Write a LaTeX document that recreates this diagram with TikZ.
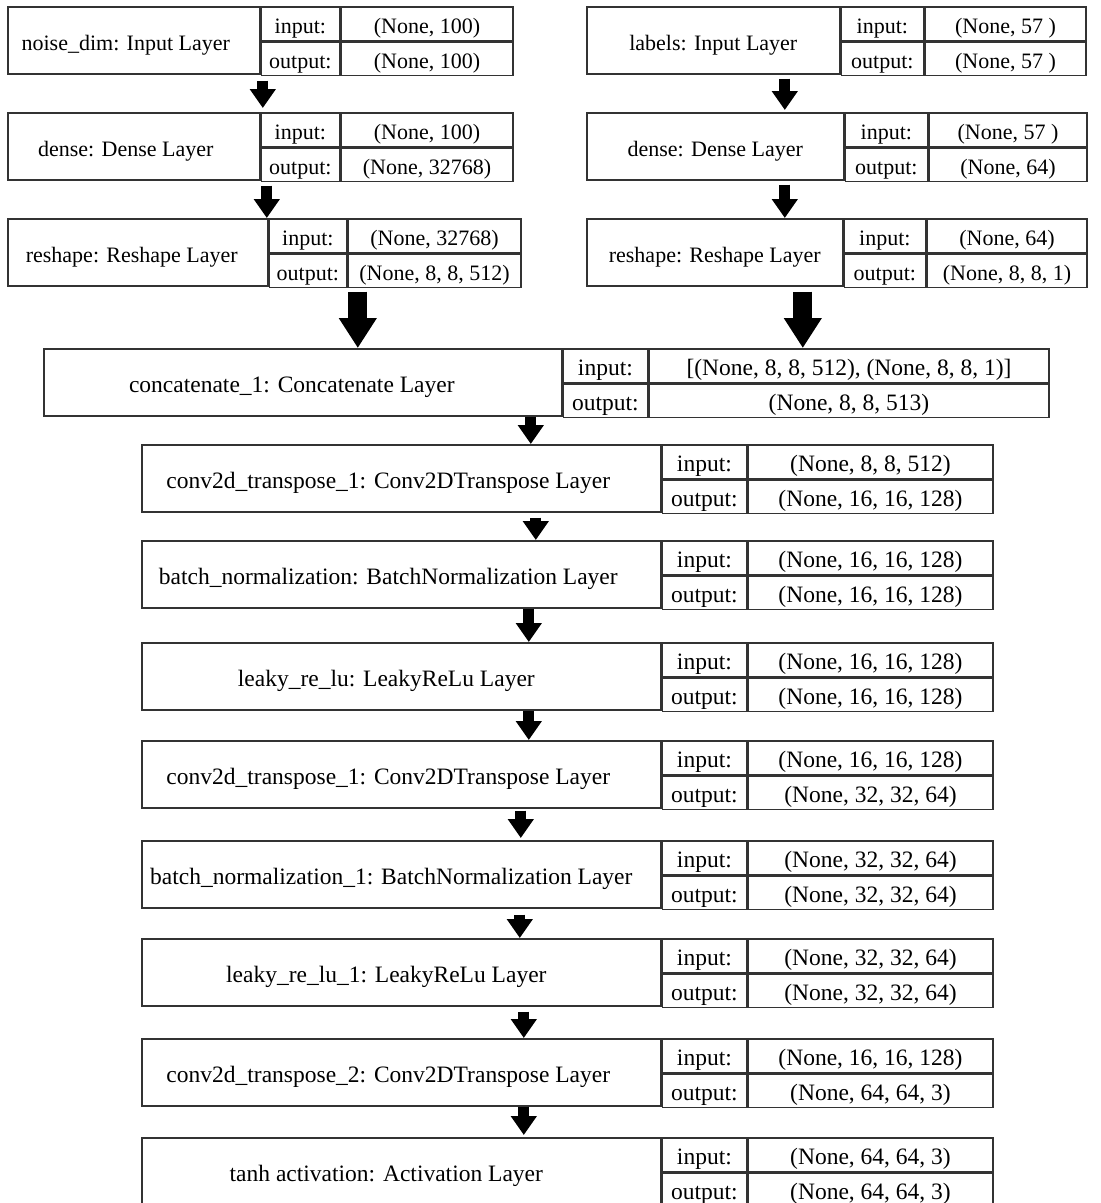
\documentclass[tikz,border=0pt]{standalone}
\usepackage{fontspec}
\setmainfont{Liberation Serif}
\usetikzlibrary{arrows.meta,positioning}

\begin{document}
\begin{tikzpicture}[x=1pt, y=-1pt,
		cell/.style={draw=black!80, line width=1.6pt, inner sep=0pt, anchor=north west,
			minimum height=67pt, text height=21pt, text depth=1pt, font=\fontsize{22}{26}\selectfont},
		half/.style={cell, minimum height=33.5pt},
		lshift/.style={execute at end node=\hspace*{#1}},
		arr/.style={line width=11pt, -{Triangle[width=25pt,length=19pt]}},
		bigarr/.style={line width=19pt, -{Triangle[width=36pt,length=30pt]}}]
	\useasboundingbox (0,0) rectangle (1101,1203);
	
	% Noise branch (left)
	\node[cell, lshift=16pt, minimum width=252pt] (noise) at (7,6) {noise\_dim: Input Layer};
	\node[half, minimum width=78pt] (noise-i) at (noise.north east) {input:};
	\node[half, minimum width=78pt] (noise-o) at (noise-i.south west) {output:};
	\node[half, minimum width=172pt] (noise-iv) at (noise-i.north east) {(None, 100)};
	\node[half, minimum width=172pt] (noise-ov) at (noise-o.north east) {(None, 100)};
	
	\node[cell, lshift=16pt, minimum width=252pt] (densea) at (7,112) {dense: Dense Layer};
	\node[half, minimum width=78pt] (densea-i) at (densea.north east) {input:};
	\node[half, minimum width=78pt] (densea-o) at (densea-i.south west) {output:};
	\node[half, minimum width=172pt] (densea-iv) at (densea-i.north east) {(None, 100)};
	\node[half, minimum width=172pt] (densea-ov) at (densea-o.north east) {(None, 32768)};
	
	\node[cell, lshift=12pt, minimum width=260pt] (reshapea) at (7,218) {reshape: Reshape Layer};
	\node[half, minimum width=77pt] (reshapea-i) at (reshapea.north east) {input:};
	\node[half, minimum width=77pt] (reshapea-o) at (reshapea-i.south west) {output:};
	\node[half, minimum width=173pt] (reshapea-iv) at (reshapea-i.north east) {(None, 32768)};
	\node[half, minimum width=173pt] (reshapea-ov) at (reshapea-o.north east) {(None, 8, 8, 512)};
	
	% Label branch (right)
	\node[cell, minimum width=253pt] (labels) at (586,6) {labels: Input Layer};
	\node[half, minimum width=82pt] (labels-i) at (labels.north east) {input:};
	\node[half, minimum width=82pt] (labels-o) at (labels-i.south west) {output:};
	\node[half, minimum width=161pt] (labels-iv) at (labels-i.north east) {(None, 57\ )};
	\node[half, minimum width=161pt] (labels-ov) at (labels-o.north east) {(None, 57\ )};
	
	\node[cell, minimum width=257pt] (denseb) at (586,112) {dense: Dense Layer};
	\node[half, minimum width=82pt] (denseb-i) at (denseb.north east) {input:};
	\node[half, minimum width=82pt] (denseb-o) at (denseb-i.south west) {output:};
	\node[half, minimum width=158pt] (denseb-iv) at (denseb-i.north east) {(None, 57\ )};
	\node[half, minimum width=158pt] (denseb-ov) at (denseb-o.north east) {(None, 64)};
	
	\node[cell, minimum width=256pt] (reshapeb) at (586,218) {reshape: Reshape Layer};
	\node[half, minimum width=81pt] (reshapeb-i) at (reshapeb.north east) {input:};
	\node[half, minimum width=81pt] (reshapeb-o) at (reshapeb-i.south west) {output:};
	\node[half, minimum width=160pt] (reshapeb-iv) at (reshapeb-i.north east) {(None, 64)};
	\node[half, minimum width=160pt] (reshapeb-ov) at (reshapeb-o.north east) {(None, 8, 8, 1)};
	
	\begin{scope}[cell/.append style={font=\fontsize{23.5}{27}\selectfont}]
		% Merge
		\node[cell, lshift=22pt, minimum width=518pt] (concat) at (43,348) {concatenate\_1: Concatenate Layer};
		\node[half, minimum width=84pt] (concat-i) at (concat.north east) {input:};
		\node[half, minimum width=84pt] (concat-o) at (concat-i.south west) {output:};
		\node[half, minimum width=400pt] (concat-iv) at (concat-i.north east) {[(None, 8, 8, 512), (None, 8, 8, 1)]};
		\node[half, minimum width=400pt] (concat-ov) at (concat-o.north east) {(None, 8, 8, 513)};
		
		% Generator stack
		\node[cell, lshift=26pt, minimum width=519pt] (convta) at (141,444) {conv2d\_transpose\_1: Conv2DTranspose Layer};
		\node[half, minimum width=84pt] (convta-i) at (convta.north east) {input:};
		\node[half, minimum width=84pt] (convta-o) at (convta-i.south west) {output:};
		\node[half, minimum width=245pt] (convta-iv) at (convta-i.north east) {(None, 8, 8, 512)};
		\node[half, minimum width=245pt] (convta-ov) at (convta-o.north east) {(None, 16, 16, 128)};
		
		\node[cell, lshift=26pt, minimum width=519pt] (bna) at (141,540) {batch\_normalization: BatchNormalization Layer};
		\node[half, minimum width=84pt] (bna-i) at (bna.north east) {input:};
		\node[half, minimum width=84pt] (bna-o) at (bna-i.south west) {output:};
		\node[half, minimum width=245pt] (bna-iv) at (bna-i.north east) {(None, 16, 16, 128)};
		\node[half, minimum width=245pt] (bna-ov) at (bna-o.north east) {(None, 16, 16, 128)};
		
		\node[cell, lshift=30pt, minimum width=519pt] (lrelua) at (141,642) {leaky\_re\_lu: LeakyReLu Layer};
		\node[half, minimum width=84pt] (lrelua-i) at (lrelua.north east) {input:};
		\node[half, minimum width=84pt] (lrelua-o) at (lrelua-i.south west) {output:};
		\node[half, minimum width=245pt] (lrelua-iv) at (lrelua-i.north east) {(None, 16, 16, 128)};
		\node[half, minimum width=245pt] (lrelua-ov) at (lrelua-o.north east) {(None, 16, 16, 128)};
		
		\node[cell, lshift=26pt, minimum width=519pt] (convtb) at (141,740) {conv2d\_transpose\_1: Conv2DTranspose Layer};
		\node[half, minimum width=84pt] (convtb-i) at (convtb.north east) {input:};
		\node[half, minimum width=84pt] (convtb-o) at (convtb-i.south west) {output:};
		\node[half, minimum width=245pt] (convtb-iv) at (convtb-i.north east) {(None, 16, 16, 128)};
		\node[half, minimum width=245pt] (convtb-ov) at (convtb-o.north east) {(None, 32, 32, 64)};
		
		\node[cell, lshift=20pt, minimum width=519pt] (bnb) at (141,840) {batch\_normalization\_1: BatchNormalization Layer};
		\node[half, minimum width=84pt] (bnb-i) at (bnb.north east) {input:};
		\node[half, minimum width=84pt] (bnb-o) at (bnb-i.south west) {output:};
		\node[half, minimum width=245pt] (bnb-iv) at (bnb-i.north east) {(None, 32, 32, 64)};
		\node[half, minimum width=245pt] (bnb-ov) at (bnb-o.north east) {(None, 32, 32, 64)};
		
		\node[cell, lshift=30pt, minimum width=519pt] (lrelub) at (141,938) {leaky\_re\_lu\_1: LeakyReLu Layer};
		\node[half, minimum width=84pt] (lrelub-i) at (lrelub.north east) {input:};
		\node[half, minimum width=84pt] (lrelub-o) at (lrelub-i.south west) {output:};
		\node[half, minimum width=245pt] (lrelub-iv) at (lrelub-i.north east) {(None, 32, 32, 64)};
		\node[half, minimum width=245pt] (lrelub-ov) at (lrelub-o.north east) {(None, 32, 32, 64)};
		
		\node[cell, lshift=26pt, minimum width=519pt] (convtc) at (141,1038) {conv2d\_transpose\_2: Conv2DTranspose Layer};
		\node[half, minimum width=84pt] (convtc-i) at (convtc.north east) {input:};
		\node[half, minimum width=84pt] (convtc-o) at (convtc-i.south west) {output:};
		\node[half, minimum width=245pt] (convtc-iv) at (convtc-i.north east) {(None, 16, 16, 128)};
		\node[half, minimum width=245pt] (convtc-ov) at (convtc-o.north east) {(None, 64, 64, 3)};
		
		\node[cell, lshift=30pt, minimum width=519pt] (tanh) at (141,1137) {tanh activation: Activation Layer};
		\node[half, minimum width=84pt] (tanh-i) at (tanh.north east) {input:};
		\node[half, minimum width=84pt] (tanh-o) at (tanh-i.south west) {output:};
		\node[half, minimum width=245pt] (tanh-iv) at (tanh-i.north east) {(None, 64, 64, 3)};
		\node[half, minimum width=245pt] (tanh-ov) at (tanh-o.north east) {(None, 64, 64, 3)};
	\end{scope}
	
	% Arrows of both branches
	\draw[arr] ([xshift=129pt,yshift=-6pt]noise.south) -- ([xshift=129pt,yshift=4pt]densea.north);
	\draw[arr] ([xshift=133pt,yshift=-5pt]densea.south) -- ([xshift=129pt]reshapea.north);
	\draw[arr] ([xshift=71.5pt,yshift=-4pt]labels.south) -- ([xshift=69.5pt,yshift=2pt]denseb.north);
	\draw[arr] ([xshift=69.5pt,yshift=-4pt]denseb.south) -- ([xshift=70pt]reshapeb.north);
	\draw[bigarr] ([xshift=220pt,yshift=-5pt]reshapea.south) -- ([xshift=55pt]concat.north);
	\draw[bigarr] ([xshift=88pt,yshift=-5pt]reshapeb.south) -- ([xshift=500pt]concat.north);
	
	% Arrows of the stack
	\draw[arr] ([xshift=228pt]concat.south) -- ([xshift=129.5pt]convta.north);
	\draw[arr] ([xshift=134.5pt,yshift=-5pt]convta.south) -- ([xshift=134.5pt]bna.north);
	\draw[arr] ([xshift=127.5pt]bna.south) -- ([xshift=127.5pt]lrelua.north);
	\draw[arr] ([xshift=127.5pt]lrelua.south) -- ([xshift=127.5pt]convtb.north);
	\draw[arr] ([xshift=119.5pt,yshift=-2pt]convtb.south) -- ([xshift=119.5pt,yshift=2pt]bnb.north);
	\draw[arr] ([xshift=118.5pt,yshift=-6pt]bnb.south) -- ([xshift=118.5pt]lrelub.north);
	\draw[arr] ([xshift=122.5pt,yshift=-5pt]lrelub.south) -- ([xshift=122.5pt]convtc.north);
	\draw[arr] ([xshift=122.5pt]convtc.south) -- ([xshift=122.5pt,yshift=2pt]tanh.north);
\end{tikzpicture}
\end{document}
